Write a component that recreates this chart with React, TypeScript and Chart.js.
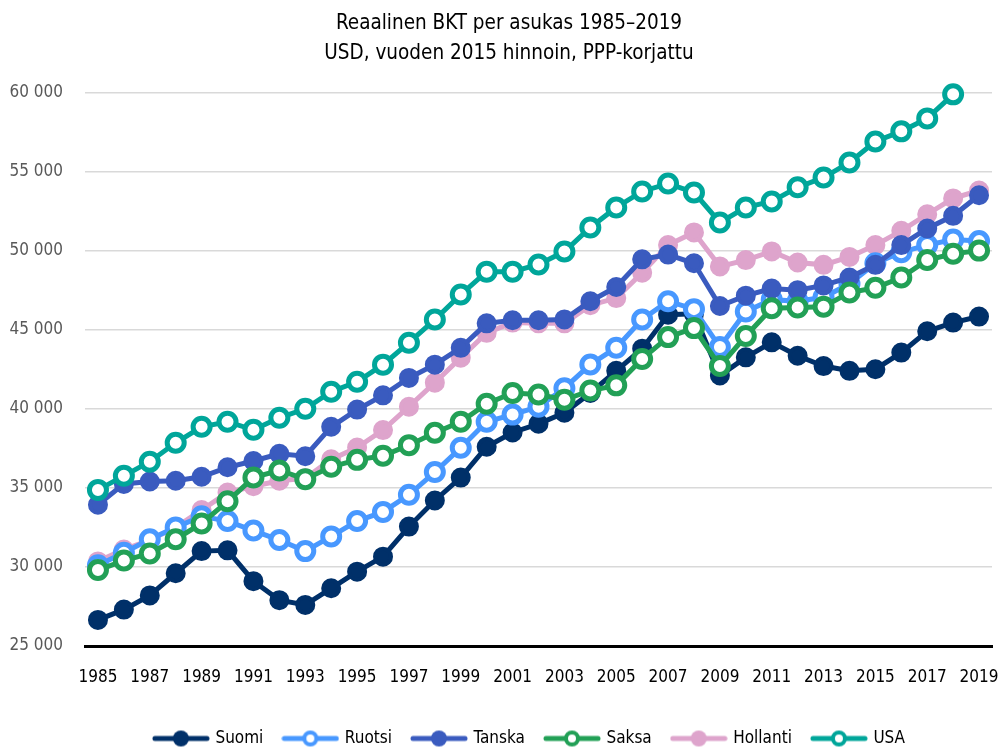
import React, { useEffect, useRef } from 'react';
import { Chart, registerables } from 'chart.js';

Chart.register(...registerables);

const FONT = '"Liberation Sans Narrow", "Arial Narrow", "DejaVu Sans Condensed", sans-serif';

const titleLines = ['Reaalinen BKT per asukas 1985–2019', 'USD, vuoden 2015 hinnoin, PPP-korjattu'];

const years = [
  '1985', '1986', '1987', '1988', '1989', '1990', '1991', '1992', '1993', '1994',
  '1995', '1996', '1997', '1998', '1999', '2000', '2001', '2002', '2003', '2004',
  '2005', '2006', '2007', '2008', '2009', '2010', '2011', '2012', '2013', '2014',
  '2015', '2016', '2017', '2018', '2019',
];

const suomi = [
  26650, 27300, 28200, 29600, 31000, 31050, 29100, 27900, 27600, 28650,
  29700, 30650, 32550, 34200, 35650, 37600, 38500, 39050, 39750, 41000,
  42400, 43800, 45950, 46000, 42100, 43250, 44200, 43350, 42700, 42400,
  42500, 43550, 44900, 45450, 45830,
];

const ruotsi = [
  30100, 30900, 31750, 32500, 33200, 32900, 32300, 31700, 31000, 31930,
  32900, 33480, 34560, 36000, 37530, 39180, 39630, 40130, 41300, 42800,
  43860, 45650, 46800, 46300, 43900, 46150, 46900, 46800, 47050, 47900,
  49200, 49900, 50350, 50700, 50600,
];

const tanska = [
  33930, 35250, 35400, 35450, 35700, 36300, 36700, 37150, 37000, 38860,
  39950, 40850, 41950, 42790, 43850, 45400, 45600, 45600, 45650, 46800,
  47700, 49450, 49750, 49200, 46500, 47150, 47600, 47500, 47800, 48300,
  49100, 50350, 51400, 52200, 53500,
];

const saksa = [
  29800, 30400, 30850, 31750, 32750, 34150, 35650, 36100, 35550, 36330,
  36770, 37030, 37700, 38480, 39180, 40320, 41000, 40900, 40570, 41150,
  41480, 43150, 44530, 45100, 42700, 44600, 46350, 46400, 46450, 47350,
  47650, 48300, 49400, 49800, 50000,
];

const hollanti = [
  30350, 31100, 31700, 32500, 33600, 34700, 35100, 35450, 35600, 36800,
  37550, 38650, 40130, 41650, 43230, 44800, 45450, 45400, 45400, 46550,
  47000, 48600, 50350, 51150, 49000, 49400, 49950, 49250, 49100, 49600,
  50350, 51250, 52300, 53300, 53800,
];

const usa = [
  34870, 35760, 36650, 37850, 38860, 39180, 38670, 39430, 40000, 41080,
  41710, 42790, 44180, 45640, 47220, 48670, 48670, 49120, 49940, 51460,
  52730, 53740, 54240, 53680, 51780, 52730, 53110, 54000, 54620, 55570,
  56900, 57540, 58360, 59880, null,
];

const seriesNames = ['Suomi', 'Ruotsi', 'Tanska', 'Saksa', 'Hollanti', 'USA'];
const seriesData = [suomi, ruotsi, tanska, saksa, hollanti, usa];
const seriesColors = ['#003069', '#4898FF', '#3A5BBF', '#22A056', '#DEA4CC', '#00A69A'];
const seriesOpen = [false, true, false, true, false, true];
// lower number = drawn on top
const seriesOrder = [5, 3, 2, 1, 4, 0];

const yMin = 25000;
const yMax = 60000;
const yStep = 5000;

function fmt(v: number) {
  const s = String(Math.round(v));
  return s.replace(/\B(?=(\d{3})+(?!\d))/g, ' ');
}

function makeMarker(color: string, open: boolean) {
  const c = document.createElement('canvas');
  c.width = 58;
  c.height = 22;
  const ctx = c.getContext('2d')!;
  ctx.strokeStyle = color;
  ctx.lineWidth = 5;
  ctx.lineCap = 'round';
  ctx.beginPath();
  ctx.moveTo(3, 11);
  ctx.lineTo(55, 11);
  ctx.stroke();
  ctx.beginPath();
  if (open) {
    ctx.arc(29, 11, 6, 0, Math.PI * 2);
    ctx.fillStyle = '#ffffff';
    ctx.fill();
    ctx.lineWidth = 4;
    ctx.stroke();
  } else {
    ctx.arc(29, 11, 8, 0, Math.PI * 2);
    ctx.fillStyle = color;
    ctx.fill();
  }
  return c;
}

const boxShift = {
  id: 'boxShift',
  afterLayout(chart: any) {
    if (chart.legend) {
      chart.legend.left += 34;
      chart.legend.right += 34;
    }
    if (chart.titleBlock) {
      chart.titleBlock.left += 13;
      chart.titleBlock.right += 13;
    }
  },
};

export default function App() {
  const ref = useRef<HTMLCanvasElement>(null);

  useEffect(() => {
    const canvas = ref.current;
    if (!canvas) return;
    const markers = seriesNames.map((_, i) => makeMarker(seriesColors[i], seriesOpen[i]));

    const datasets = seriesNames.map((name, i) => ({
      label: name,
      data: seriesData[i],
      borderColor: seriesColors[i],
      backgroundColor: seriesColors[i],
      borderWidth: 5,
      pointRadius: seriesOpen[i] ? 8.5 : 8,
      pointHoverRadius: seriesOpen[i] ? 8.5 : 8,
      pointBorderWidth: seriesOpen[i] ? 5 : 4,
      pointBackgroundColor: seriesOpen[i] ? '#ffffff' : seriesColors[i],
      pointBorderColor: seriesColors[i],
      tension: 0,
      spanGaps: false,
      clip: false as any,
      order: seriesOrder[i],
    }));

    const chart = new Chart(canvas, {
      type: 'line',
      data: { labels: years, datasets },
      plugins: [boxShift],
      options: {
        responsive: false,
        animation: false,
        devicePixelRatio: 1,
        layout: { autoPadding: false, padding: { top: 0, left: 0, right: 7, bottom: -10 } },
        plugins: {
          title: {
            display: true,
            text: titleLines,
            color: '#000000',
            font: { family: FONT, size: 20.5, weight: 'normal', lineHeight: 1.45 },
            padding: { top: 9, bottom: 24 },
          },
          legend: {
            position: 'bottom',
            labels: {
              usePointStyle: true,
              pointStyleWidth: 52,
              padding: 21,
              color: '#000000',
              font: { family: FONT, size: 17 },
              generateLabels: () =>
                seriesNames.map((name, i) => ({
                  text: name,
                  fillStyle: seriesColors[i],
                  strokeStyle: seriesColors[i],
                  lineWidth: 0,
                  pointStyle: markers[i] as any,
                  hidden: false,
                  datasetIndex: i,
                  fontColor: '#000000',
                })),
            },
          },
          tooltip: { enabled: false },
        },
        scales: {
          x: {
            offset: true,
            grid: { display: false, drawTicks: false },
            border: { display: true, color: '#000000', width: 3 },
            ticks: {
              autoSkip: false,
              maxRotation: 0,
              padding: 21,
              color: '#000000',
              font: { family: FONT, size: 17 },
              callback: (_v: any, i: number) => (i % 2 === 0 ? years[i] : ''),
            },
            afterFit: (s: any) => {
              s.height = 63;
              s.paddingLeft = 0;
              s.paddingRight = 0;
            },
          },
          y: {
            min: yMin,
            max: yMax,
            grid: { color: '#d9d9d9', lineWidth: 1.5, drawTicks: false },
            border: { display: false },
            ticks: {
              stepSize: yStep,
              padding: 22,
              color: '#595959',
              font: { family: FONT, size: 17 },
              callback: (v: any) => fmt(Number(v)),
            },
            afterFit: (s: any) => {
              s.width = 85;
              s.paddingTop = 0;
              s.paddingBottom = 0;
            },
          },
        },
      },
    });

    return () => chart.destroy();
  }, []);

  return (
    <div style={{ position: 'absolute', left: 0, top: 0, width: 999, height: 747, background: '#fff' }}>
      <canvas ref={ref} width={999} height={747} style={{ display: 'block' }} />
    </div>
  );
}
